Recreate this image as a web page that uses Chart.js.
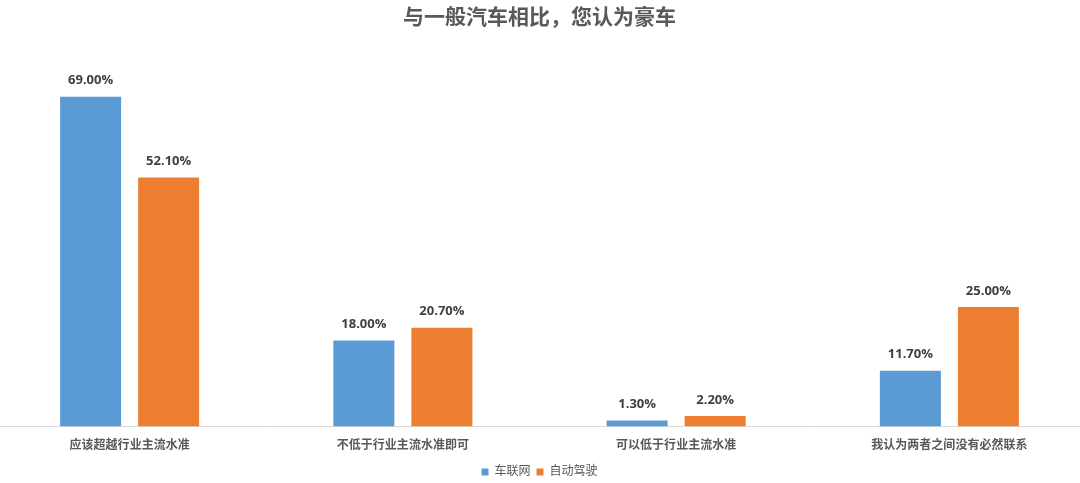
<!DOCTYPE html>
<html>
<head>
<meta charset="utf-8">
<script src="https://cdn.jsdelivr.net/npm/chart.js@4"></script>
<style>
  html, body { margin: 0; padding: 0; background: #fff; overflow: hidden; }
  #wrap { position: absolute; left: -7px; top: 0; width: 1093px; height: 483px; }
</style>
</head>
<body>
<div id="wrap"><canvas id="barChart" width="1093" height="483"></canvas></div>
<script>
const titleText = '与一般汽车相比，您认为豪车';
const categories = ['应该超越行业主流水准', '不低于行业主流水准即可', '可以低于行业主流水准', '我认为两者之间没有必然联系'];
const seriesNames = ['车联网', '自动驾驶'];
const carNetValues = [69.0, 18.0, 1.3, 11.7];
const autoDriveValues = [52.1, 20.7, 2.2, 25.0];

const fontFamily = '"Open Sans", "Noto Sans CJK SC", sans-serif';

// value labels above each bar
const valueLabels = {
    id: 'valueLabels',
    afterDatasetsDraw(chart) {
        const ctx = chart.ctx;
        ctx.save();
        ctx.font = 'bold 13px ' + fontFamily;
        ctx.fillStyle = '#404040';
        ctx.textAlign = 'center';
        ctx.textBaseline = 'middle';
        chart.data.datasets.forEach((ds, i) => {
            chart.getDatasetMeta(i).data.forEach((bar, j) => {
                ctx.fillText(ds.data[j].toFixed(2) + '%', bar.x, bar.y - 16);
            });
        });
        ctx.restore();
    }
};

const ctx = document.getElementById('barChart').getContext('2d');
new Chart(ctx, {
    type: 'bar',
    data: {
        labels: categories,
        datasets: [
            {
                label: seriesNames[0],
                backgroundColor: '#5B9BD5',
                data: carNetValues
            },
            {
                label: seriesNames[1],
                backgroundColor: '#ED7D31',
                data: autoDriveValues
            }
        ]
    },
    options: {
        responsive: false,
        animation: false,
        categoryPercentage: 0.571,
        barPercentage: 0.782,
        layout: { padding: { left: 0, right: 0, top: 0, bottom: 0 } },
        plugins: {
            title: {
                display: true,
                text: titleText,
                color: '#595959',
                font: { size: 21, weight: 'bold', family: fontFamily },
                padding: { top: 5, bottom: 14 }
            },
            legend: {
                position: 'bottom',
                maxHeight: 23,
                labels: {
                    boxWidth: 7,
                    boxHeight: 7,
                    padding: 6,
                    color: '#595959',
                    font: { size: 12, family: fontFamily }
                }
            },
            tooltip: { enabled: false }
        },
        scales: {
            x: {
                grid: { display: false },
                border: { color: '#d9d9d9', width: 1 },
                ticks: {
                    color: '#595959',
                    padding: 4,
                    font: { size: 12, weight: 'bold', family: fontFamily }
                },
                afterFit(scale) {
                    scale.height += 3;
                }
            },
            y: {
                display: false,
                min: 0,
                max: 80
            }
        }
    },
    plugins: [valueLabels]
});
</script>
</body>
</html>
